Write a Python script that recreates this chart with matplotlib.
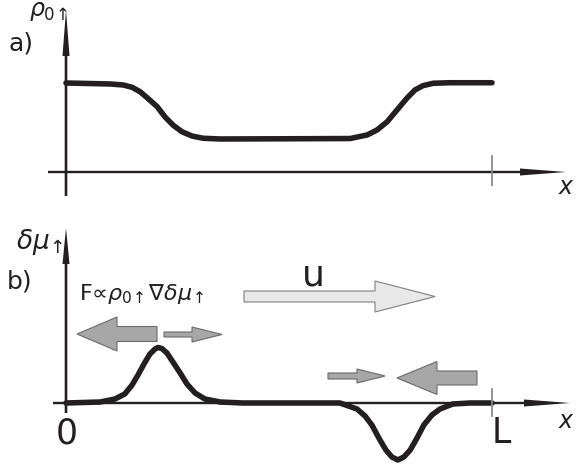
import matplotlib
matplotlib.use("Agg")
from matplotlib import pyplot as plt
from matplotlib.patches import FancyArrow
from matplotlib.transforms import Affine2D

# panel a: density profile rho_0up(x), x in units of L
rho_x = [0.0, 0.103, 0.134, 0.155, 0.174, 0.192, 0.214, 0.232, 0.251, 0.272,
         0.296, 0.322, 0.362, 0.50, 0.667, 0.707, 0.730, 0.754, 0.777, 0.800,
         0.819, 0.838, 0.862, 0.901, 1.0]
rho_y = [1.0, 0.989, 0.978, 0.952, 0.902, 0.828, 0.734, 0.621, 0.528, 0.453,
         0.404, 0.379, 0.371, 0.373, 0.376, 0.416, 0.472, 0.565, 0.697, 0.828,
         0.921, 0.970, 0.997, 1.003, 1.003]

# panel b: spin chemical potential delta mu_up(x)
mu_x = [0.0, 0.080, 0.115, 0.138, 0.155, 0.169, 0.183, 0.197, 0.209, 0.216,
        0.225, 0.237, 0.251, 0.268, 0.284, 0.303, 0.326, 0.362, 0.415, 0.55,
        0.643, 0.683, 0.702, 0.718, 0.737, 0.751, 0.765, 0.779, 0.793, 0.808,
        0.824, 0.840, 0.859, 0.878, 0.908, 0.948, 1.0]
mu_y = [0.0, 0.018, 0.073, 0.164, 0.327, 0.509, 0.709, 0.891, 0.982, 1.009,
        0.991, 0.909, 0.745, 0.545, 0.345, 0.182, 0.073, 0.018, 0.0, 0.0,
        0.0, -0.109, -0.236, -0.4, -0.673, -0.855, -0.982, -1.036, -0.982, -0.855,
        -0.636, -0.4, -0.218, -0.109, -0.018, 0.0, 0.0]

W, H = 577, 468
fig = plt.figure(figsize=(W / 100, H / 100), dpi=100)
ax = fig.add_axes([0, 0, 1, 1])
ax.set_xlim(0, W)
ax.set_ylim(H, 0)
ax.axis("off")

x0, xL = 66, 492
ta = Affine2D().scale(xL - x0, -89).translate(x0, 172) + ax.transData
tb = Affine2D().scale(xL - x0, -55).translate(x0, 403) + ax.transData

curve = dict(color="#231f20", lw=4.0, solid_capstyle="round", solid_joinstyle="round")
ax.plot(rho_x, rho_y, transform=ta, **curve)
ax.plot(mu_x, mu_y, transform=tb, **curve)

# axes with spike arrowheads
ax_kw = dict(length_includes_head=True, color="#231f20", lw=0)
ax.add_patch(FancyArrow(x0, 196, 0, -186, width=2.6, head_width=7, head_length=46, **ax_kw))
ax.add_patch(FancyArrow(48, 172, 518, 0, width=2.4, head_width=7, head_length=46, **ax_kw))
ax.add_patch(FancyArrow(x0, 413, 0, -185, width=2.6, head_width=7, head_length=36, **ax_kw))
ax.add_patch(FancyArrow(53, 403, 517, 0, width=2.4, head_width=7, head_length=46, **ax_kw))
ax.plot([xL, xL], [156, 185], color="#8a8a8a", lw=1.3)
ax.plot([xL, xL], [389, 416], color="#8a8a8a", lw=1.3)

# force / velocity arrows
dark = dict(length_includes_head=True, fc="#a7a7a7", ec="#6a6a6a", lw=0.8)
light = dict(length_includes_head=True, fc="#e8e8e8", ec="#808080", lw=0.8)
ax.add_patch(FancyArrow(157, 334, -80, 0, width=15, head_width=34, head_length=40, **dark))
ax.add_patch(FancyArrow(164, 334.5, 58, 0, width=5, head_width=15, head_length=30, **dark))
ax.add_patch(FancyArrow(477, 378, -80, 0, width=14, head_width=33, head_length=40, **dark))
ax.add_patch(FancyArrow(328, 376, 57, 0, width=6, head_width=14, head_length=28, **dark))
ax.add_patch(FancyArrow(244, 296.5, 191, 0, width=11, head_width=31, head_length=60, **light))

txt = dict(color="#231f20", family="DejaVu Sans")
ax.text(21, 44, "a)", fontsize=18, ha="center", va="center", **txt)
ax.text(20, 281, "b)", fontsize=18, ha="center", va="center", **txt)
ax.text(48, 11, r"$\rho_{0\!\uparrow}$", fontsize=17, ha="center", va="center", **txt)
ax.text(40, 242, r"$\delta\mu_{\!\uparrow}$", fontsize=19, ha="center", va="center", **txt)
ax.text(79, 300, "F\u221d" + r"$\rho_{0\!\uparrow}\nabla\delta\mu_{\!\uparrow}$", fontsize=16,
        ha="left", va="baseline", **txt)
ax.text(313, 286, "u", fontsize=26, ha="center", va="baseline", **txt)
ax.text(67, 443, "0", fontsize=25, ha="center", va="baseline", **txt)
ax.text(501, 443, "L", fontsize=25, ha="center", va="baseline", **txt)
ax.text(566, 194, "x", fontsize=17, style="italic", ha="center", va="baseline", **txt)
ax.text(566, 428, "x", fontsize=17, style="italic", ha="center", va="baseline", **txt)

fig.savefig("out.png", dpi=100)
